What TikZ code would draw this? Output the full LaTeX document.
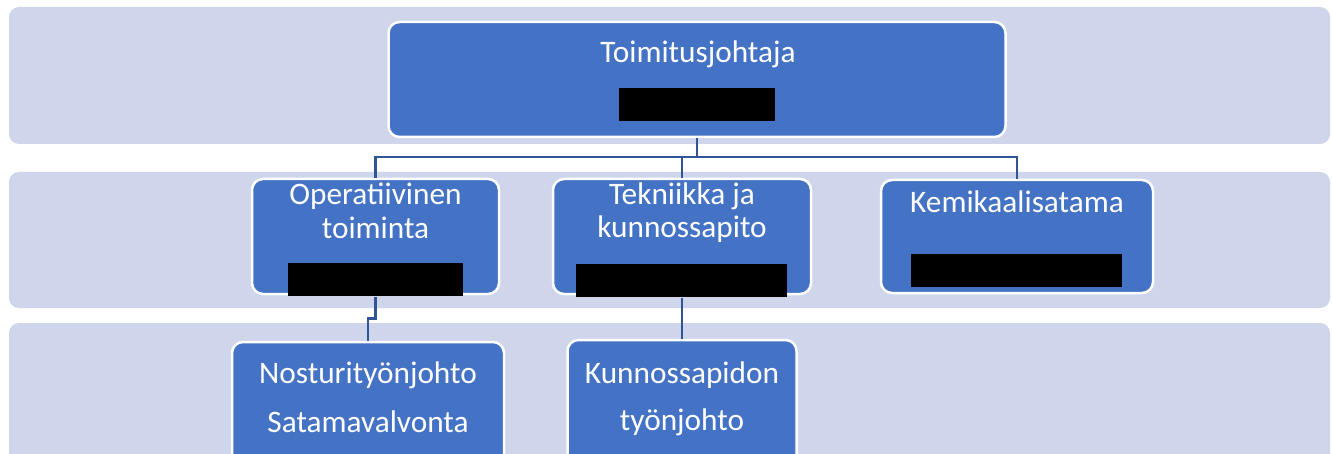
\documentclass[tikz,border=0pt]{standalone}
\usepackage{fontspec}
\setmainfont{Carlito}
\definecolor{bandfill}{HTML}{CFD5EA}
\definecolor{boxblue}{HTML}{4472C4}
\definecolor{linkblue}{HTML}{2F5597}
\begin{document}
\begin{tikzpicture}[x=1pt,y=-1pt,
  bandbox/.style={fill=bandfill, rounded corners=10pt},
  orgbox/.style={draw=white, line width=2.5pt, fill=boxblue, rounded corners=11pt, inner sep=0pt},
  link/.style={draw=linkblue, line width=2.5pt},
  lbl/.style={text=white, font=\fontsize{31.3pt}{35pt}\selectfont, inner sep=0pt, anchor=base},
  redact/.style={fill=black}]
\useasboundingbox (0,0) rectangle (1332,454);
\fill[white] (0,0) rectangle (1332,454);
% bands
\path[bandbox] (9,7) rectangle (1330,144);
\path[bandbox] (9,172) rectangle (1330,308);
\path[bandbox] (9,323) rectangle (1330,480);
% boxes
\node[orgbox, minimum width=617pt, minimum height=115pt] (ceo) at (697,79.5) {};
\node[orgbox, minimum width=247pt, minimum height=115pt] (op) at (375.5,236.5) {};
\node[orgbox, minimum width=258pt, minimum height=115pt] (tek) at (682,236.5) {};
\node[orgbox, minimum width=272pt, minimum height=113pt] (kem) at (1017,236.5) {};
\node[orgbox, minimum width=272pt, minimum height=128pt] (nos) at (368,406) {};
\node[orgbox, minimum width=229pt, minimum height=130pt] (kun) at (682,405) {};
% redaction bars
\fill[redact] (619,88) rectangle (775,121);
\fill[redact] (288,263) rectangle (463,296);
\fill[redact] (576,264) rectangle (787,297);
\fill[redact] (911,254) rectangle (1122,287);
% connectors
\coordinate (bus) at (697,157);
\draw[link] (ceo.south) -- (bus);
\draw[link] (op.north) |- (bus) -| (kem.north);
\draw[link] (tek.north) -- (tek.north |- bus);
\draw[link] (op.south) ++(0,1.5) -- ++(0,21.5) -| (nos.north);
\draw[link] (tek.south) ++(0,3) -- (kun.north);
% labels
\node[lbl] (ceoT) at (698,63) {Toimitusjohtaja};
\node[lbl] (opT1) at (375.5,205) {Operatiivinen};
\node[lbl] (opT2) at (375.5,239) {toiminta};
\node[lbl] (tekT1) at (682,205) {Tekniikka ja};
\node[lbl] (tekT2) at (682,238) {kunnossapito};
\node[lbl] (kemT) at (1017,213) {Kemikaalisatama};
\node[lbl] (nosT1) at (368,383) {Nosturityönjohto};
\node[lbl] (nosT2) at (368,432) {Satamavalvonta};
\node[lbl] (kunT1) at (682,383) {Kunnossapidon};
\node[lbl] (kunT2) at (682,430) {työnjohto};
\end{tikzpicture}
\end{document}
